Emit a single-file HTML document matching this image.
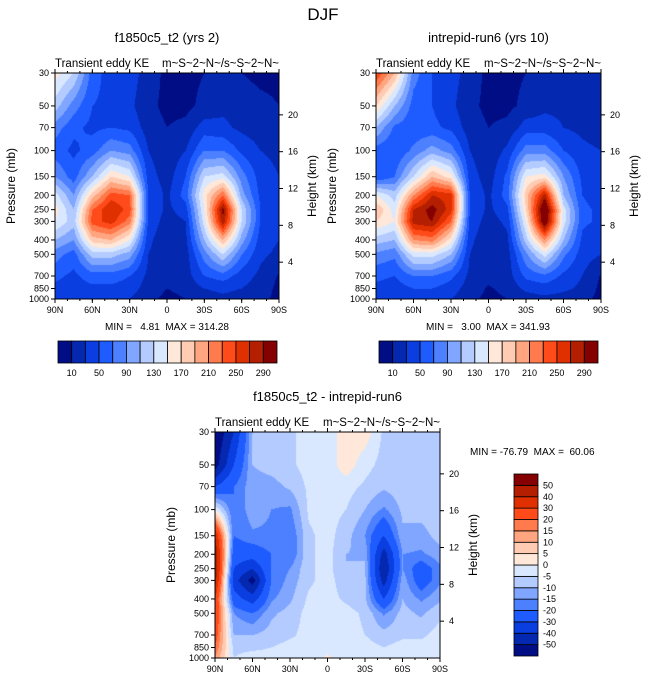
<!DOCTYPE html>
<html><head><meta charset="utf-8">
<style>
body{margin:0;background:#fff;width:647px;height:683px;overflow:hidden;font-family:"Liberation Sans",sans-serif;}
#root{position:relative;width:647px;height:683px;}
text{white-space:pre;}
</style></head>
<body><div id="root">
<svg id="svg" width="647" height="683" xmlns="http://www.w3.org/2000/svg" style="position:absolute;left:0;top:0"></svg>
</div>
<script>
const lats = ['90N','75N','60N','45N','30N','15N','0','15S','30S','45S','60S','75S','90S'];
const levels = [30,50,70,100,150,200,250,300,400,500,700,850,1000];
const xTicks = ['90N','60N','30N','0','30S','60S','90S'];
const heightTicks = [20,16,12,8,4];
const levelsA = [10,30,50,70,90,110,130,150,170,190,210,230,250,270,290];
const labelsA = [10,50,90,130,170,210,250,290];
const levelsD = [-50,-40,-30,-20,-15,-10,-5,0,5,10,15,20,30,40,50];
const colors = ['#000d85','#0428b0','#0a3ee0','#1f5cff','#4c80ff','#80a6ff','#b3cbff','#d9e8ff','#ffe8d9','#ffcbb3','#ffa680','#ff7a4c','#ff4b1a','#e03000','#b31f00','#850000'];
const fieldA = [
[160,130,60,40,40,20,5,5,10,20,10,5,5],
[120,80,50,45,35,15,5,5,15,25,20,15,10],
[80,55,45,50,45,20,10,15,40,35,25,20,15],
[60,45,60,90,80,30,15,30,70,70,45,30,25],
[90,60,110,170,150,40,20,50,130,140,80,40,30],
[140,90,180,240,230,50,25,60,160,230,100,45,35],
[160,110,230,270,240,50,25,40,150,300,130,50,40],
[150,120,240,260,220,45,20,30,140,285,130,50,40],
[110,90,180,190,150,35,15,25,110,190,100,40,30],
[80,60,120,120,100,30,15,20,80,130,70,35,25],
[55,45,60,60,50,25,15,20,50,60,40,25,8],
[45,40,45,45,40,20,10,15,30,35,30,20,5],
[40,35,40,40,30,15,5,10,20,25,20,15,5]];
const fieldB = [
[250,190,80,50,40,20,5,5,10,20,15,10,10],
[170,110,60,50,35,15,5,5,15,25,25,20,15],
[110,65,55,55,45,20,10,15,40,40,30,25,20],
[60,50,75,100,80,30,15,35,80,80,50,35,30],
[50,70,130,190,160,40,20,55,150,160,90,45,35],
[150,120,210,270,260,50,25,60,180,280,110,50,40],
[190,140,270,300,260,50,25,45,170,330,140,55,45],
[170,150,280,290,230,45,20,35,150,320,140,55,45],
[120,110,210,220,160,35,15,25,120,210,110,45,35],
[85,75,140,140,110,30,15,20,85,140,75,40,30],
[55,50,70,70,55,25,15,20,55,65,45,30,8],
[45,40,50,50,40,20,8,15,35,40,35,25,5],
[40,35,40,40,30,15,5,10,20,25,20,15,5]];
const fieldD = [
[-60,-40,-10,-8,-6,-3,-3,3,3,-6,-6,-6,-6],
[-55,-30,-10,-8,-6,-3,-3,3,-3,-7,-6,-6,-6],
[-30,-20,-12,-12,-9,-4,-3,-3,-6,-9,-7,-6,-6],
[0,-20,-12,-15,-16,-4,-3,-5,-10,-16,-9,-8,-6],
[40,-20,-16,-16,-20,-6,-3,-8,-15,-30,-11,-12,-8],
[50,-25,-25,-20,-20,-6,-3,-10,-11,-45,-15,-16,-12],
[50,-30,-40,-20,-15,-6,-3,-10,-9,-50,-15,-25,-16],
[45,-35,-55,-20,-13,-6,-3,-8,-9,-45,-12,-25,-16],
[30,-25,-35,-16,-11,-4,-3,-6,-9,-30,-10,-16,-11],
[30,-15,-20,-11,-8,-3,-2,-3,-6,-16,-8,-11,-6],
[25,-10,-10,-8,-6,-3,-2,-3,-5,-8,-6,-6,-3],
[20,-6,-6,-5,-3,-3,-2,-3,-3,-5,-3,-3,-3],
[15,-5,-3,-3,-3,-3,1,-3,-3,-3,-3,-3,-3]];

const NS='http://www.w3.org/2000/svg';
const svg=document.getElementById('svg');
function mk(tag,attrs,parent){const e=document.createElementNS(NS,tag);for(const k in attrs)e.setAttribute(k,attrs[k]);(parent||svg).appendChild(e);return e;}
function txt(x,y,s,size,anchor,extra){const t=mk('text',Object.assign({x:x,y:y,'font-size':size,'text-anchor':anchor||'start','font-family':'Liberation Sans, sans-serif',fill:'#000'},extra||{}));t.textContent=s;return t;}
function hex(c){return [parseInt(c.substr(1,2),16),parseInt(c.substr(3,2),16),parseInt(c.substr(5,2),16)];}

function panel(px,py,w,h,field,lv,title,name,heightLabelX){
  const g=mk('g',{});
  
  
  const yOfP=p=>py+h*Math.log(p/levels[0])/Math.log(levels[levels.length-1]/levels[0]);
  const cv=document.createElement('canvas');cv.width=w;cv.height=h;
  const ctx=cv.getContext('2d');const img=ctx.createImageData(w,h);
  const rgb=colors.map(hex);
  for(let j=0;j<h;j++){
    const p=levels[0]*Math.exp((j+0.5)/h*Math.log(levels[levels.length-1]/levels[0]));
    let k=0;while(k<levels.length-2&&p>levels[k+1])k++;
    const ty=Math.min(1,Math.max(0,Math.log(p/levels[k])/Math.log(levels[k+1]/levels[k])));
    for(let i=0;i<w;i++){
      const fx=(i+0.5)/w*(lats.length-1);let c=Math.min(lats.length-2,Math.floor(fx));const tx=fx-c;
      const v=(field[k][c]*(1-tx)+field[k][c+1]*tx)*(1-ty)+(field[k+1][c]*(1-tx)+field[k+1][c+1]*tx)*ty;
      let idx=0;while(idx<lv.length&&v>=lv[idx])idx++;
      const o=(j*w+i)*4;img.data[o]=rgb[idx][0];img.data[o+1]=rgb[idx][1];img.data[o+2]=rgb[idx][2];img.data[o+3]=255;
    }
  }
  ctx.putImageData(img,0,0);
  const im=mk('image',{x:px,y:py,width:w,height:h,href:cv.toDataURL()},g);
  
  
  const fr=mk('rect',{x:px,y:py,width:w,height:h,fill:'none',stroke:'#000','stroke-width':1},g);
  
  
  levels.forEach(p=>{const y=yOfP(p);mk('line',{x1:px-4,x2:px,y1:y,y2:y,stroke:'#000'},g);
    const t=txt(px-6,y+3,String(p),9,'end');});
  xTicks.forEach((s,i)=>{const x=px+w*i/(xTicks.length-1);mk('line',{x1:x,x2:x,y1:py+h,y2:py+h+4,stroke:'#000'},g);mk('line',{x1:x,x2:x,y1:py,y2:py-4,stroke:'#000'},g);
    const t=txt(x,py+h+14,s,9,'middle');});
  for(let i=0;i<=18;i++){const x=px+w*i/18;mk('line',{x1:x,x2:x,y1:py+h,y2:py+h+2,stroke:'#000'},g);mk('line',{x1:x,x2:x,y1:py,y2:py-2,stroke:'#000'},g);}
  heightTicks.forEach(z=>{const p=1000*Math.exp(-z/7);const y=yOfP(p);mk('line',{x1:px+w,x2:px+w+4,y1:y,y2:y,stroke:'#000'},g);
    const t=txt(px+w+9,y+3,String(z),9,'start');});
  const t1=txt(px+w/2,py-31,title,13,'middle');
  const t2=txt(px,py-6,'Transient eddy KE',11.5,'start');
  const t3=txt(px+w,py-6,'m~S~2~N~/s~S~2~N~',11.5,'end');
  const t4=txt(px-40,py+h/2,'Pressure (mb)',12,'middle',{transform:`rotate(-90 ${px-40} ${py+h/2})`});
  const hx=px+w+heightLabelX;
  const t5=txt(hx,py+h/2,'Height (km)',12,'middle',{transform:`rotate(-90 ${hx} ${py+h/2})`});
}

function hbar(x,y,w,h,lv,labels,name){
  const g=mk('g',{});
  
  
  const n=colors.length;const bw=w/n;
  colors.forEach((c,i)=>{const r=mk('rect',{x:x+i*bw,y:y,width:bw,height:h,fill:c,stroke:'#000','stroke-width':0.8},g);
    });
  lv.forEach((v,i)=>{if(labels.indexOf(v)>=0){const t=txt(x+(i+1)*bw,y+h+13,String(v),9,'middle');}});
}
function vbar(x,y,w,h,lv,name){
  const g=mk('g',{});
  
  
  const n=colors.length;const bh=h/n;
  colors.forEach((c,i)=>{const r=mk('rect',{x:x,y:y+(n-1-i)*bh,width:w,height:bh,fill:c,stroke:'#000','stroke-width':0.8},g);
    });
  lv.forEach((v,i)=>{const t=txt(x+w+5,y+(n-1-i)*bh+3,String(v),9,'start');});
}

const main=txt(323,20,'DJF',17,'middle');


panel(55,73,224,226,fieldA,levelsA,'f1850c5_t2 (yrs 2)','panel-f1850c5',37);
panel(376,73,225,226,fieldB,levelsA,'intrepid-run6 (yrs 10)','panel-intrepid',37);
panel(215,432,225,226,fieldD,levelsD,'f1850c5_t2 - intrepid-run6','panel-difference',37);
const m1=txt(167,330,'MIN =   4.81  MAX = 314.28',10,'middle');


const m2=txt(488,330,'MIN =   3.00  MAX = 341.93',10,'middle');


const m3=txt(470,455,'MIN = -76.79  MAX =  60.06',10,'start');


hbar(58,341,219,22,levelsA,labelsA,'colorbar-left');
hbar(379,341,219,22,levelsA,labelsA,'colorbar-right');
vbar(514,474,24,182,levelsD,'colorbar-difference');
</script>
</body></html>
